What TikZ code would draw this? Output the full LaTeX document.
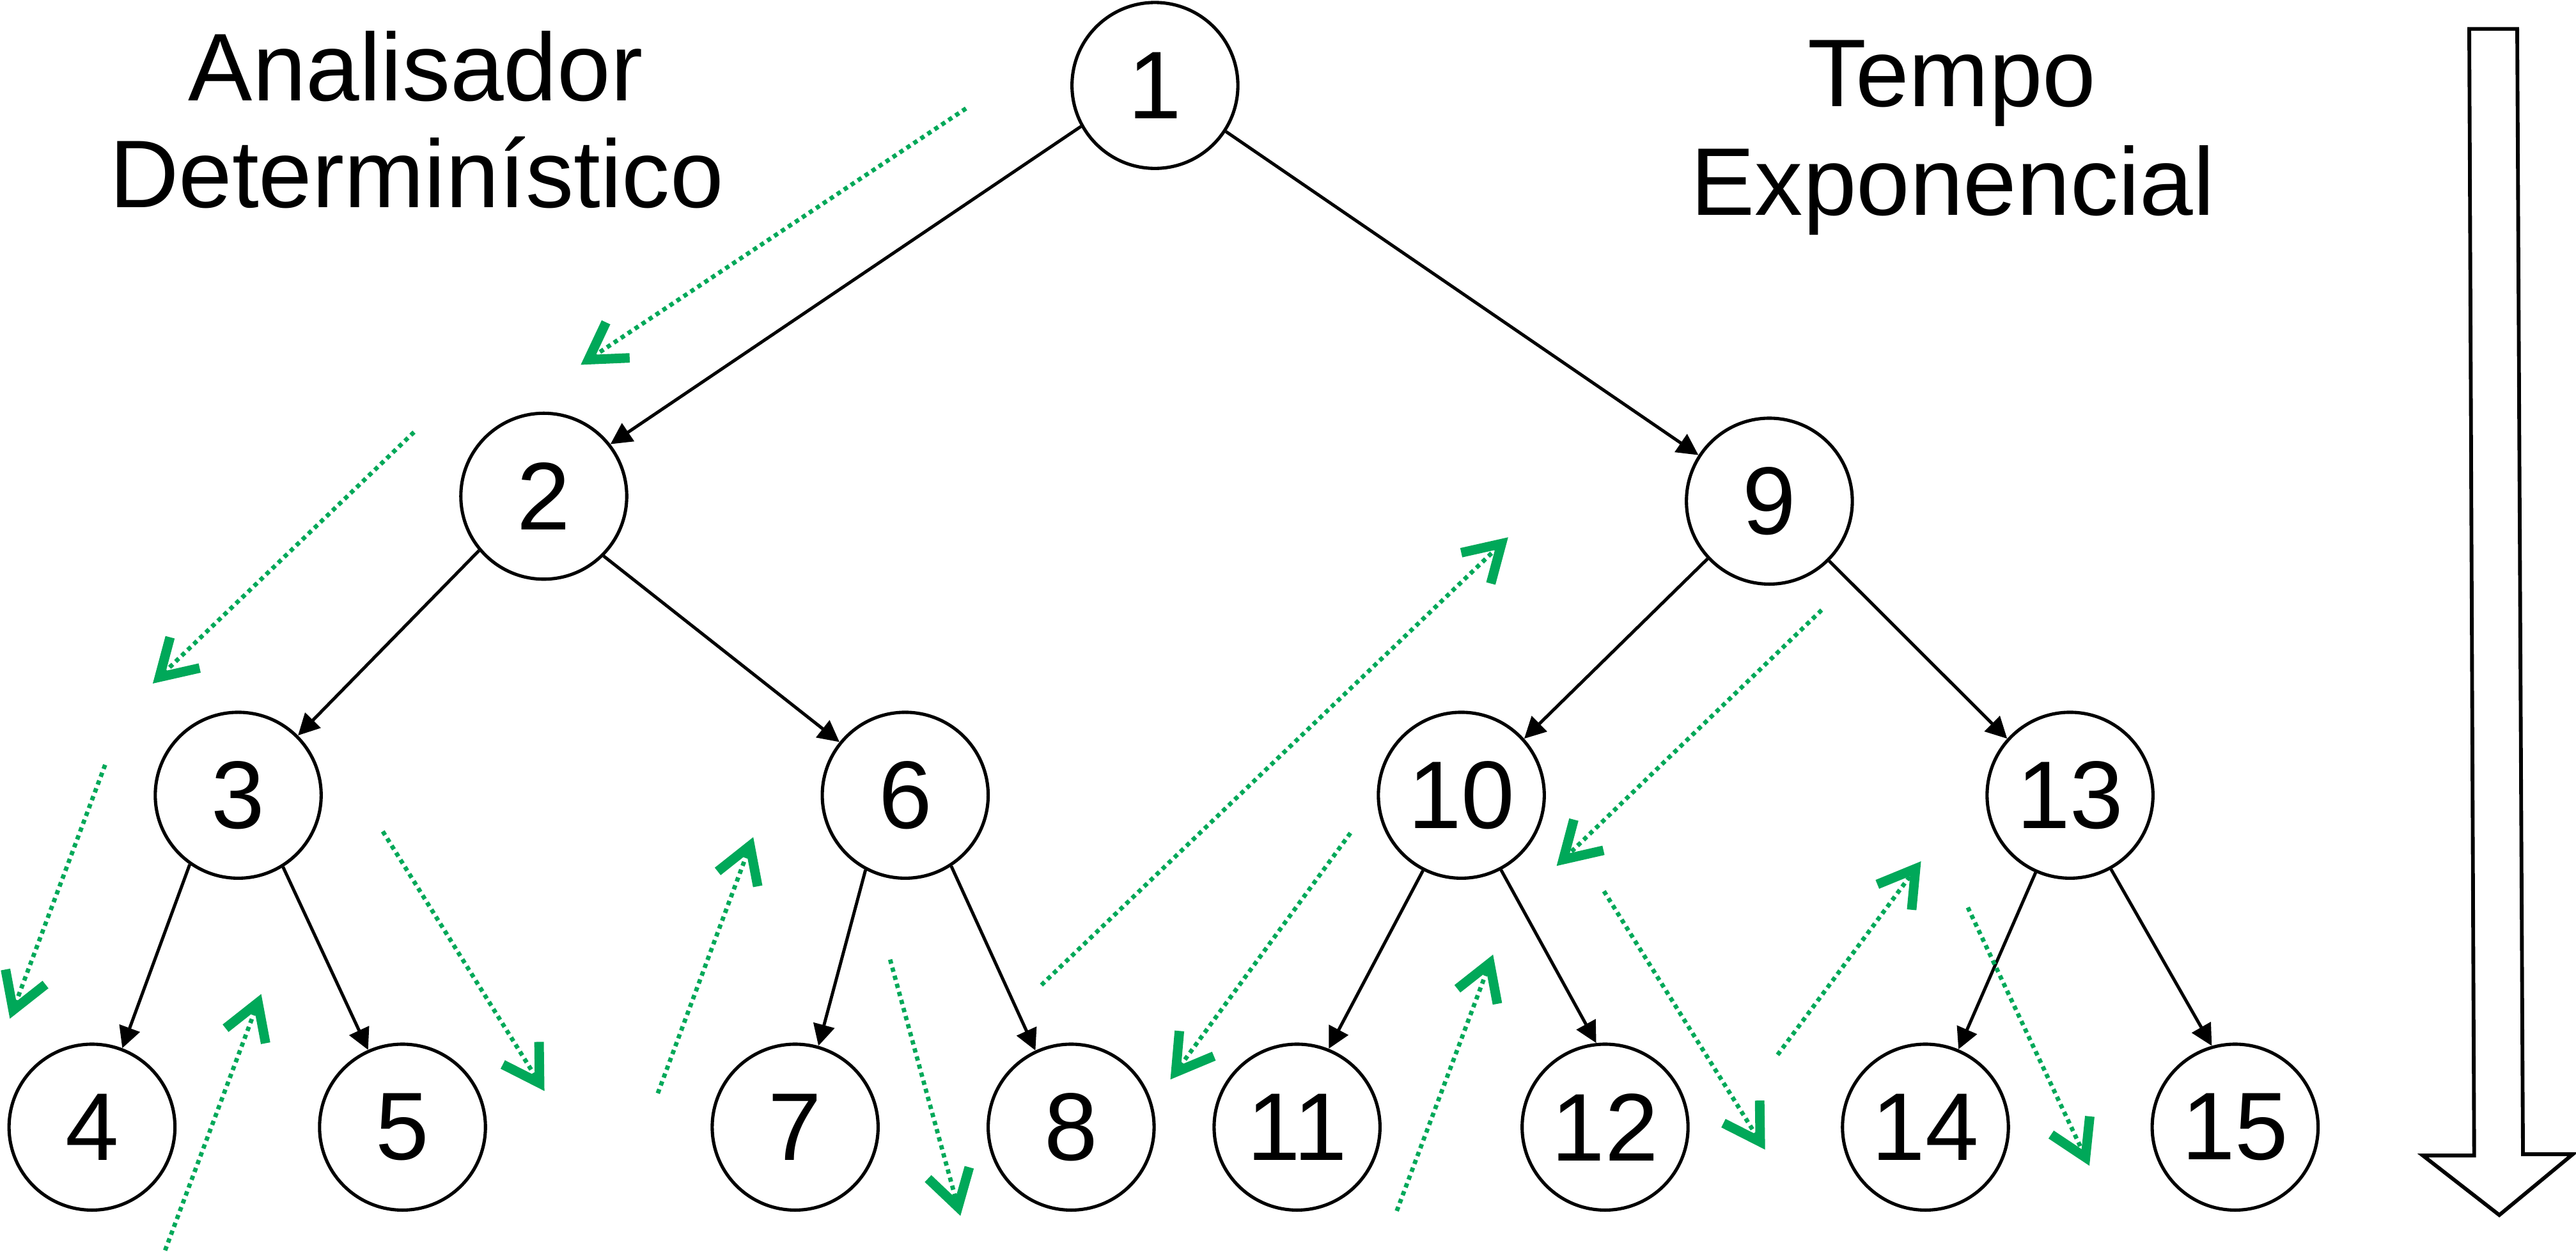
\documentclass[tikz,border=0pt]{standalone}
\usepackage{fontspec}
\setmainfont{Liberation Sans}
\usetikzlibrary{arrows.meta}
\definecolor{walkgreen}{RGB}{0,168,89}

\begin{document}
\begin{tikzpicture}[x=0.02cm, y=-0.02cm,
  every node/.style={font=\fontsize{33.3}{36.8}\selectfont},
  vertex/.style={circle, draw, line width=1.13pt, minimum size=2.02cm, inner sep=0pt},
  treeedge/.style={line width=1.1pt, -{Triangle[length=0.26cm, width=0.26cm]}},
  walk/.style={draw=walkgreen, line width=1.5pt, dash pattern=on 1.5pt off 1.4pt,
    -{Straight Barb[line width=3.3pt 0, length=0.43cm, width=0.52cm, sharp]}},
  heading/.style={anchor=base}]

\useasboundingbox (0,0) rectangle (1568,762);

% headings
\node[heading] (hl1) at (253,61.2) {Analisador};
\node[heading] (hl2) at (253.5,126.3) {Determinístico};
\node[heading] (hr1) at (1188,64.9) {Tempo};
\node[heading] (hr2) at (1188.6,131) {Exponencial};

% tree vertices
\node[vertex] (n1)  at (703,52)    {1};
\node[vertex] (n2)  at (331,302)   {2};
\node[vertex] (n9)  at (1077,305)  {9};
\node[vertex] (n3)  at (145,484)   {3};
\node[vertex] (n6)  at (551,484)   {6};
\node[vertex] (n10) at (889.5,484) {10};
\node[vertex] (n13) at (1260,484)  {13};
\node[vertex] (n4)  at (56,686)    {4};
\node[vertex] (n5)  at (245,686)   {5};
\node[vertex] (n7)  at (484,686)   {7};
\node[vertex] (n8)  at (652,686)   {8};
\node[vertex] (n11) at (789.5,686) {11};
\node[vertex] (n12) at (977,686)   {12};
\node[vertex] (n14) at (1172,686)  {14};
\node[vertex] (n15) at (1360.5,686){15};

% tree edges
\draw[treeedge] (n1.209.5) -- (n2.38);
\draw[treeedge] (n1.327)   -- (n9.147);
\draw[treeedge] (n2.220)   -- (n3.45);
\draw[treeedge] (n2.315)   -- (n6.141);
\draw[treeedge] (n9.223)   -- (n10.42);
\draw[treeedge] (n9.315)   -- (n13.138);
\draw[treeedge] (n3.235)   -- (n4.69);
\draw[treeedge] (n3.302)   -- (n5.114);
\draw[treeedge] (n6.242)   -- (n7.74);
\draw[treeedge] (n6.303)   -- (n8.115);
\draw[treeedge] (n10.243)  -- (n11.68);
\draw[treeedge] (n10.298)  -- (n12.96);
\draw[treeedge] (n13.246)  -- (n14.67);
\draw[treeedge] (n13.299)  -- (n15.106);

% depth-first walk
\coordinate (w1a)  at (588,66);     \coordinate (w1b)  at (353.5,222);
\coordinate (w2a)  at (252,263);    \coordinate (w2b)  at (93,416);
\coordinate (w3a)  at (64,465.5);   \coordinate (w3b)  at (6,620);
\coordinate (w4a)  at (100.5,761);  \coordinate (w4b)  at (159,605);
\coordinate (w5a)  at (233,506);    \coordinate (w5b)  at (331.4,664);
\coordinate (w6a)  at (400.4,665.4);\coordinate (w6b)  at (458.5,509.5);
\coordinate (w7a)  at (541.8,584);  \coordinate (w7b)  at (584.6,740);
\coordinate (w8a)  at (633.9,599.5);\coordinate (w8b)  at (918,327);
\coordinate (w9a)  at (822,507);    \coordinate (w9b)  at (712.4,657);
\coordinate (w10a) at (850.2,737);  \coordinate (w10b) at (908.8,581);
\coordinate (w11a) at (1108.8,371.3);\coordinate (w11b) at (947.5,527);
\coordinate (w12a) at (976.3,542.4);\coordinate (w12b) at (1074.4,699.7);
\coordinate (w13a) at (1082,642);   \coordinate (w13b) at (1169.3,524.2);
\coordinate (w14a) at (1197.8,552.3);\coordinate (w14b) at (1271.8,709.5);
\foreach \i in {1,...,14} {
  \draw[walk] (w\i a) -- (w\i b);
}

% time arrow
\draw[line width=1.3pt, line join=miter]
  (1503,17.6) -- (1532.2,17.6) -- (1535.7,702.5) -- (1566,702.5)
  -- (1521.3,739.5) -- (1474.8,703.3) -- (1506,703.3) -- cycle;
\end{tikzpicture}
\end{document}
